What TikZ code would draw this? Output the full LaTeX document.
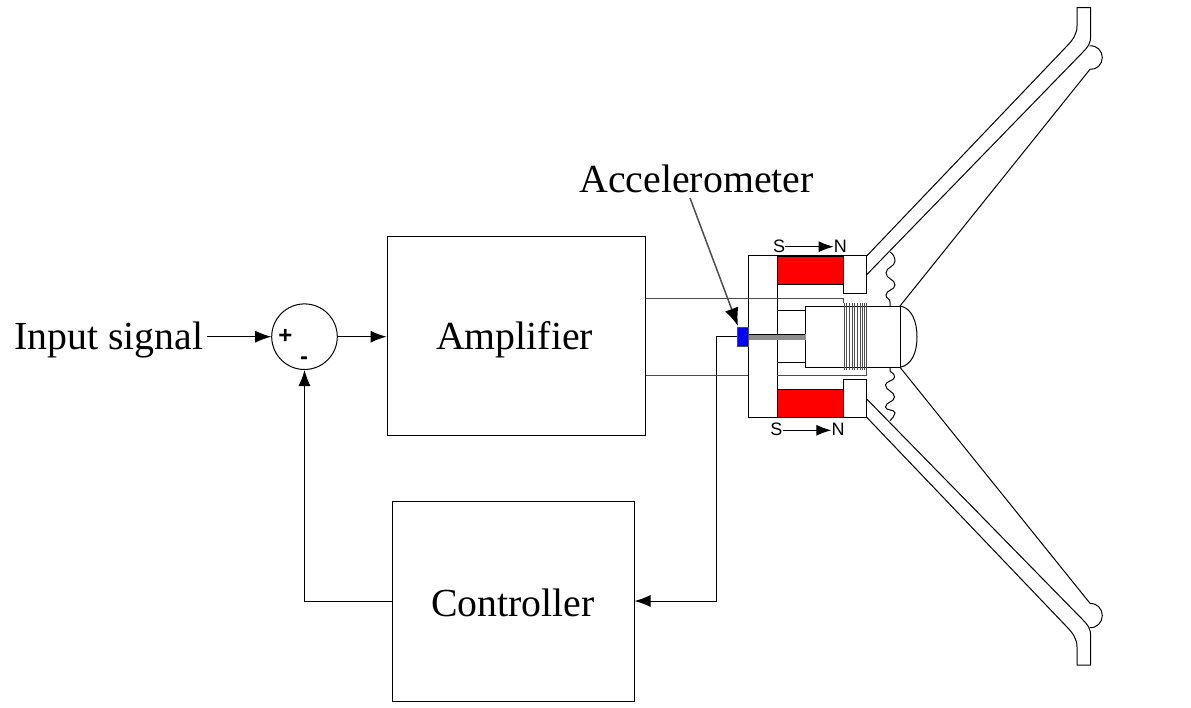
\documentclass[tikz,border=0pt]{standalone}
\usepackage{fontspec}
\setmainfont{Liberation Serif}
\newfontfamily\polefont{Liberation Sans}
\usetikzlibrary{arrows.meta}
\tikzset{
  blockbox/.style={draw, line width=1pt, minimum width=#1, inner sep=0pt},
  biglabel/.style={font=\fontsize{39.8}{44}\selectfont, inner sep=0pt},
  polelabel/.style={font=\polefont\fontsize{18}{20}\selectfont, inner sep=0pt},
  signlabel/.style={font=\polefont\bfseries\fontsize{24}{26}\selectfont, inner sep=0pt},
  wire/.style={draw, line width=1pt},
  arrowwire/.style={wire, -{Latex[length=16pt,width=12pt]}},
  polearrow/.style={wire, -{Latex[length=15pt,width=11pt]}},
  part/.style={draw, line width=1pt},
  greypart/.style={draw=black!70, line width=1pt}
}
\begin{document}
\begin{tikzpicture}[x=1pt,y=-1pt]
\useasboundingbox (0,0) rectangle (1191,708);

\node[blockbox=258pt, minimum height=198pt] (amp) at (516,336) {};
\node[blockbox=242pt, minimum height=200pt] (ctrl) at (513,601) {};
\node[draw, circle, line width=1pt, minimum size=65.6pt, inner sep=0pt] (sum) at (304.5,336.7) {};
\node[biglabel] (input) at (109,340) {Input signal};
\node[biglabel] (amptext) at (514.5,340) {Amplifier};
\node[biglabel] (ctrltext) at (513,602.5) {Controller};
\node[biglabel] (acctext) at (696.5,178.5) {Accelerometer};
\node[signlabel] (plus) at (285.5,336) {+};
\node[signlabel] (minus) at (304,361) {-};

% magnets and frame
\path[part, fill=red] (777,256.5) rectangle (843,284.7);
\path[part, fill=red] (777,389) rectangle (843,417.3);
\path[part] (777,284.7) -- (777,389);
\path[part] (748.3,256) -- (866.7,256) -- (866.7,294) -- (843,294) -- (843,284.7);
\path[part] (748.3,256) -- (748.3,417.3) -- (866.7,417.3) -- (866.7,379) -- (843,379) -- (843,389);
\path[part] (777,310.3) -- (805,310.3);
\path[part] (777,362.7) -- (805,362.7);

% voice coil
\node[draw, line width=1pt, minimum width=95pt, minimum height=61.3pt, inner sep=0pt] (former) at (852.5,336.7) {};
\foreach \x in {844,846.5,849,852.3,854.7,857.3,860,862.7,864.7} {
  \path[greypart] (\x,303.3) -- (\x,370);
}
\path[part] (900,306) .. controls (912,308) and (917,322) .. (917,337) .. controls (917,352) and (912,365) .. (900,367.3);

% rod and sensor
\path[draw=black!45, fill=black!45] (748.3,334.7) rectangle (805,339.5);
\path[part] (748.3,334.7) -- (805,334.7);
\node[draw=black!70, fill=blue, line width=0.7pt, minimum width=10.6pt, minimum height=18.7pt, inner sep=0pt] (accel) at (743,336.7) {};

% springs
\path[part] (890,252) .. controls (893,254) and (895,257) .. (895,261) .. controls (895,267) and (886,267) .. (886,273) .. controls (886,279) and (895,279) .. (895,285) .. controls (895,290) and (886,290) .. (886,295) .. controls (886,299) and (890,298) .. (890,302) -- (890,306);
\path[part] (890,368) -- (890,371) .. controls (891,373) and (894.5,373) .. (894.5,377) .. controls (894.5,381) and (885.5,381) .. (885.5,385) .. controls (885.5,391) and (894.5,391) .. (894.5,397) .. controls (894.5,402) and (885.5,402) .. (885.5,407) .. controls (885.5,411) and (895,409) .. (895,413) .. controls (895,416) and (892,418) .. (890,420.7);

% cone
\path[part] (866.7,256) -- (1066,47) .. controls (1073,40) and (1077,34) .. (1077,26) -- (1077,7.7) -- (1090.7,7.7) -- (1090.7,36) .. controls (1090.7,43) and (1088,47) .. (1083,52) -- (866.7,274.7);
\path[part] (1089.5,46) .. controls (1097,45) and (1102.3,51) .. (1102.3,57.5) .. controls (1102.3,64) and (1097,70) .. (1090,69.3) -- (900,306);
\path[part] (866.7,417.3) -- (1066,626) .. controls (1073,633) and (1077,639) .. (1077,647) -- (1077,665) -- (1090.7,665) -- (1090.7,636) .. controls (1090.7,629) and (1088,625) .. (1083,620) -- (866.7,399);
\path[part] (1089.5,627.5) .. controls (1097,628.5) and (1102.3,622) .. (1102.3,615.5) .. controls (1102.3,609) and (1097,603) .. (1090,603.3) -- (900,367.3);

% connections
\coordinate (inputend) at (207,336.7);
\path[arrowwire] (inputend) -- (sum.west);
\path[arrowwire] (sum.east) -- (amp.west |- sum.east);
\path[arrowwire] (ctrl.west) -| (sum.south);
\coordinate (fbcorner) at (716.3,336.7);
\path[arrowwire] (accel.west) -- (fbcorner) |- (ctrl.east);
\coordinate (ampouttop) at (amp.east |- 0,299);
\coordinate (ampoutlow) at (amp.east |- 0,375.3);
\path[greypart] (ampouttop) -- (843,299) -- (843,303.3);
\path[greypart] (ampoutlow) -- (748.3,375.3);
\path[greypart] (777,375.3) -- (866.7,375.3) -- (866.7,303.3);
\coordinate (acctail) at (690,198);
\coordinate (acctip) at (738,326);
\path[draw=black!70, line width=1.5pt, -{Latex[length=18pt,width=14pt,black]}] (acctail) -- (acctip);

% pole marks
\node[polelabel] (s1) at (779,246) {S};
\node[polelabel] (n1) at (840.3,246) {N};
\node[polelabel] (s2) at (776.3,429.3) {S};
\node[polelabel] (n2) at (838,429.3) {N};
\path[polearrow] (s1.east |- 0,246.7) -- (n1.west |- 0,246.7);
\path[polearrow] (s2.east |- 0,430.3) -- (n2.west |- 0,430.3);
\end{tikzpicture}
\end{document}
